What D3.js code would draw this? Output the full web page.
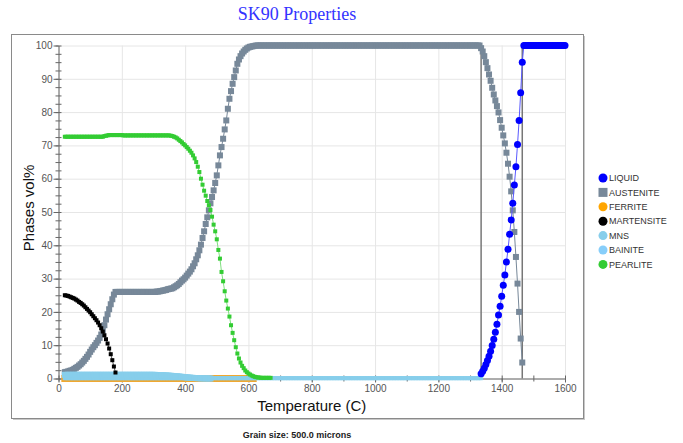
<!DOCTYPE html>
<html lang="en">
<head>
  <title>SK90 Properties</title>
  <meta charset="utf-8">
  <style>
  body { margin: 0; background: #fff; }
  svg { display: block; font-family: "Liberation Sans", Arial, sans-serif; }
  .grid line { stroke: #e6e6e6; }
  .grid path { display: none; }
  .axis path, .axis line { stroke: #666; }
  .axis text { fill: #555; font-size: 10px; font-family: "Liberation Sans", Arial, sans-serif; }
  .minor path { display: none; }
  </style>
  <script src="https://cdn.jsdelivr.net/npm/d3@7"></script>
</head>
<body>
  <svg width="683" height="443"></svg>
  <script>
  // every series is sampled on a 5 C temperature grid, starting at its own temperature
  var step = 5;

  var yTicks = [0, 10, 20, 30, 40, 50, 60, 70, 80, 90, 100];
  var xTicks = [0, 200, 400, 600, 800, 1000, 1200, 1400, 1600];

  // LIQUID, from 1335 C
  var liquidStart = 1335;
  var liquid = [1.4, 2.2, 3.1, 4.2, 5.4, 6.7, 8.2, 9.9, 11.8, 13.9, 16.3, 19.1, 21.7, 24.7, 28, 31.1, 35, 38.8, 43.3, 47.6,
    52.6, 58.1, 63.6, 70.3, 77.5, 85.8, 95,
    100, 100, 100, 100, 100, 100, 100, 100, 100, 100, 100, 100, 100, 100, 100, 100, 100, 100, 100, 100, 100, 100, 100, 100, 100, 100, 100];

  // AUSTENITE, from 20 C
  var austeniteStart = 20;
  var austenite = [1.9, 2.0, 2.1, 2.3, 2.4, 2.6, 2.9, 3.2, 3.5, 3.9, 4.3, 4.8, 5.3, 5.9, 6.5, 7.2, 8.0, 8.7, 9.4, 10.0,
    10.7, 11.4, 12.2, 13.2, 14.5, 16.0, 17.7, 19.3, 20.8, 22.3, 23.8, 25.2, 26.0,
    26, 26, 26, 26, 26, 26, 26, 26, 26, 26, 26, 26, 26, 26, 26, 26, 26, 26, 26, 26, 26, 26, 26,
    26.0, 26.0, 26.1, 26.1, 26.2, 26.3, 26.4, 26.5, 26.6, 26.8, 26.9, 27.0, 27.1, 27.4, 27.7, 28.0, 28.4, 28.9, 29.4, 29.8,
    30.3, 30.9, 31.5, 32.1, 32.8, 33.7, 34.6, 35.8, 37.0, 38.5, 40.2, 42.2, 44.2, 46.4, 48.4, 50.5, 52.6, 54.5, 56.5, 58.7,
    61.0, 64.0, 67.0, 69.5, 72.0, 74.8, 77.5, 81.0, 84.0, 86.3, 88.5, 90.5, 92.5, 94.5, 95.8, 96.8, 97.6, 98.2, 98.7, 99.1,
    99.4, 99.6, 99.7, 99.8, 99.9, 100,
    100, 100, 100, 100, 100, 100, 100, 100, 100, 100, 100, 100, 100, 100, 100, 100, 100, 100, 100, 100,
    100, 100, 100, 100, 100, 100, 100, 100, 100, 100, 100, 100, 100, 100, 100, 100, 100, 100, 100, 100,
    100, 100, 100, 100, 100, 100, 100, 100, 100, 100, 100, 100, 100, 100, 100, 100, 100, 100, 100, 100,
    100, 100, 100, 100, 100, 100, 100, 100, 100, 100, 100, 100, 100, 100, 100, 100, 100, 100, 100, 100,
    100, 100, 100, 100, 100, 100, 100, 100, 100, 100, 100, 100, 100, 100, 100, 100, 100, 100, 100, 100,
    100, 100, 100, 100, 100, 100, 100, 100, 100, 100, 100, 100, 100, 100, 100, 100, 100, 100, 100, 100,
    100, 100, 100, 100, 100, 100, 100, 100, 100, 100, 100, 100, 100, 100, 100, 100, 100, 100, 100, 100,
    100, 99.2, 98.2, 96.8, 95.0, 93.2, 91.3, 89.4, 87.3, 85.3, 83.5, 81.8, 79.9, 77.6, 75.3, 73.0, 70.6, 67.8, 64.5, 60.6,
    56.2, 50.5, 44.0, 36.5, 28.5, 20.0, 12.0, 4.8];

  // FERRITE, from 20 C
  var ferriteStart = 20;
  var ferrite = [0, 0, 0, 0, 0, 0, 0, 0, 0, 0, 0, 0, 0, 0, 0, 0, 0, 0, 0, 0,
    0, 0, 0, 0, 0, 0, 0, 0, 0, 0, 0, 0, 0, 0, 0, 0, 0, 0, 0, 0,
    0, 0, 0, 0, 0, 0, 0, 0, 0, 0, 0, 0, 0, 0, 0, 0, 0, 0, 0, 0,
    0, 0, 0, 0, 0, 0, 0, 0, 0, 0, 0, 0, 0, 0, 0, 0, 0, 0, 0, 0,
    0, 0, 0, 0, 0, 0, 0, 0, 0, 0, 0, 0, 0, 0, 0, 0, 0, 0, 0, 0,
    0, 0, 0, 0, 0, 0, 0, 0, 0, 0, 0, 0, 0, 0, 0, 0, 0, 0, 0, 0];

  // MARTENSITE, from 20 C
  var martensiteStart = 20;
  var martensite = [25.0, 24.9, 24.8, 24.6, 24.4, 24.2, 24.0, 23.7, 23.4, 23.0, 22.7, 22.3, 21.9, 21.4, 20.9, 20.4, 19.9, 19.3, 18.7, 18.1,
    17.5, 16.8, 16.0, 15.1, 14.1, 13.0, 11.8, 10.5, 9.0, 7.3, 5.5, 3.6, 1.8];

  // MNS, from 20 C
  var mnsStart = 20;
  var mns = [0.1, 0.1, 0.1, 0.1, 0.1, 0.1, 0.1, 0.1, 0.1, 0.1, 0.1, 0.1, 0.1, 0.1, 0.1, 0.1, 0.1, 0.1, 0.1, 0.1,
    0.1, 0.1, 0.1, 0.1, 0.1, 0.1, 0.1, 0.1, 0.1, 0.1, 0.1, 0.1, 0.1, 0.1, 0.1, 0.1, 0.1, 0.1, 0.1, 0.1,
    0.1, 0.1, 0.1, 0.1, 0.1, 0.1, 0.1, 0.1, 0.1, 0.1, 0.1, 0.1, 0.1, 0.1, 0.1, 0.1, 0.1, 0.1, 0.1, 0.1,
    0.1, 0.1, 0.1, 0.1, 0.1, 0.1, 0.1, 0.1, 0.1, 0.1, 0.1, 0.1, 0.1, 0.1, 0.1, 0.1, 0.1, 0.1, 0.1, 0.1,
    0.1, 0.1, 0.1, 0.1, 0.1, 0.1, 0.1, 0.1, 0.1, 0.1, 0.1, 0.1, 0.1, 0.1, 0.1, 0.1, 0.1, 0.1, 0.1, 0.1,
    0.1, 0.1, 0.1, 0.1, 0.1, 0.1, 0.1, 0.1, 0.1, 0.1, 0.1, 0.1, 0.1, 0.1, 0.1, 0.1, 0.1, 0.1, 0.1, 0.1,
    0.1, 0.1, 0.1, 0.1, 0.1, 0.1, 0.1, 0.1, 0.1, 0.1, 0.1, 0.1, 0.1, 0.1, 0.1, 0.1, 0.1, 0.1, 0.1, 0.1,
    0.1, 0.1, 0.1, 0.1, 0.1, 0.1, 0.1, 0.1, 0.1, 0.1, 0.1, 0.1, 0.1, 0.1, 0.1, 0.1, 0.1, 0.1, 0.1, 0.1,
    0.1, 0.1, 0.1, 0.1, 0.1, 0.1, 0.1, 0.1, 0.1, 0.1, 0.1, 0.1, 0.1, 0.1, 0.1, 0.1, 0.1, 0.1, 0.1, 0.1,
    0.1, 0.1, 0.1, 0.1, 0.1, 0.1, 0.1, 0.1, 0.1, 0.1, 0.1, 0.1, 0.1, 0.1, 0.1, 0.1, 0.1, 0.1, 0.1, 0.1,
    0.1, 0.1, 0.1, 0.1, 0.1, 0.1, 0.1, 0.1, 0.1, 0.1, 0.1, 0.1, 0.1, 0.1, 0.1, 0.1, 0.1, 0.1, 0.1, 0.1,
    0.1, 0.1, 0.1, 0.1, 0.1, 0.1, 0.1, 0.1, 0.1, 0.1, 0.1, 0.1, 0.1, 0.1, 0.1, 0.1, 0.1, 0.1, 0.1, 0.1,
    0.1, 0.1, 0.1, 0.1, 0.1, 0.1, 0.1, 0.1, 0.1, 0.1, 0.1, 0.1, 0.1, 0.1, 0.1, 0.1, 0.1, 0.1, 0.1, 0.1,
    0.1, 0.1, 0.1, 0.1];

  // BAINITE, from 20 C
  var bainiteStart = 20;
  var bainite = [1.1, 1.1, 1.1, 1.1, 1.1, 1.1, 1.1, 1.1, 1.1, 1.1, 1.1, 1.1, 1.1, 1.1, 1.1, 1.1, 1.1, 1.1, 1.1, 1.1,
    1.1, 1.1, 1.1, 1.1, 1.1, 1.1, 1.1, 1.1, 1.1, 1.1, 1.1, 1.1, 1.1, 1.1, 1.1, 1.1, 1.1, 1.1, 1.1, 1.1,
    1.1, 1.1, 1.1, 1.1, 1.1, 1.1, 1.1, 1.1, 1.1, 1.1, 1.1, 1.1, 1.1, 1.1, 1.1, 1.1, 1.1,
    1.08, 1.06, 1.04, 1.02, 1.0, 0.97, 0.94, 0.91, 0.88, 0.85, 0.81, 0.77, 0.73, 0.69, 0.65, 0.6, 0.55, 0.5, 0.45, 0.4,
    0.35, 0.3, 0.26, 0.22, 0.18, 0.15, 0.12, 0.1, 0.08, 0.06, 0.05, 0.04, 0.03, 0.02, 0.01, 0];

  // PEARLITE, from 20 C
  var pearliteStart = 20;
  var pearlite = [72.6, 72.6, 72.6, 72.6, 72.6, 72.6, 72.6, 72.6, 72.6, 72.6, 72.6, 72.6, 72.6, 72.6, 72.6, 72.6, 72.6, 72.6, 72.6, 72.6,
    72.6, 72.6, 72.6, 72.6, 72.6,
    72.8, 72.9, 73.0, 73.1, 73.1, 73.1, 73.1, 73.1, 73.1, 73.1, 73.1, 73.1, 73.0,
    73.0, 73.0, 73.0, 73.0, 73.0, 73.0, 73.0, 73.0, 73.0, 73.0, 73.0, 73.0, 73.0, 73.0, 73.0, 73.0, 73.0, 73.0, 73.0, 73.0,
    73.0, 73.0, 73.0, 73.0, 73.0, 73.0, 73.0, 73.0, 73.0,
    72.9, 72.8, 72.6, 72.4, 72.1, 71.7, 71.3, 70.9, 70.4, 70.0, 69.5, 69.0, 68.4, 67.8, 67.0, 66.1, 65.0, 63.6, 62.0, 60.0,
    58.2, 56.4, 54.9, 53.3, 52.0, 50.6, 48.6, 46.2, 44.2, 41.8, 38.6, 36.0, 32.0, 29.2, 26.2, 23.4, 21.0, 18.6, 16.0, 13.7,
    11.5, 9.4, 7.5, 6.0, 4.8, 3.8, 3.1, 2.4, 1.9, 1.5, 1.2, 0.9, 0.7, 0.5, 0.4, 0.3, 0.3, 0.2, 0.2, 0.2,
    0.2, 0.2, 0.2, 0.2];

  // solidus / liquidus markers
  var phaseLines = [1335, 1465];

  var svg = d3.select("svg"),
      margin = {top: 45.5, left: 58.5},
      width = 506.5,
      height = 333;

  // outer frame with a little shadow
  svg.append("rect")
      .attr("x", 13).attr("y", 36).attr("width", 572).attr("height", 384)
      .attr("fill", "#c8c8c8");
  svg.append("rect")
      .attr("x", 11.5).attr("y", 34.5).attr("width", 572).attr("height", 384)
      .attr("fill", "#fff").attr("stroke", "#8a8a8a");

  var g = svg.append("g").attr("transform", "translate(" + margin.left + "," + margin.top + ")");

  var x = d3.scaleLinear().domain([0, 1600]).range([0, width]);
  var y = d3.scaleLinear().domain([0, 100]).range([height, 0]);

  svg.append("text")
      .attr("x", 297).attr("y", 20)
      .attr("text-anchor", "middle")
      .attr("font-family", "'Liberation Serif', 'Times New Roman', serif")
      .style("font-size", "18px")
      .attr("fill", "#3333ff")
      .text("SK90 Properties");

  // grid
  g.append("g")
      .attr("class", "grid")
      .call(d3.axisLeft(y).tickValues(yTicks).tickSize(-width).tickFormat(""));
  g.append("g")
      .attr("class", "grid")
      .attr("transform", "translate(0," + height + ")")
      .call(d3.axisBottom(x).tickValues(xTicks).tickSize(-height).tickFormat(""));

  // axes
  var minorY = d3.range(0, 100.1, 2.5);
  g.append("g")
      .attr("class", "axis minor")
      .call(d3.axisLeft(y).tickValues(minorY).tickSize(3).tickFormat(""))
      .selectAll(".tick line").attr("x1", 3);
  g.append("g")
      .attr("class", "axis")
      .call(d3.axisLeft(y).tickValues(yTicks).tickSize(5).tickSizeOuter(0).tickPadding(1));

  g.append("g")
      .attr("class", "axis minor")
      .attr("transform", "translate(0," + height + ")")
      .call(d3.axisBottom(x).tickValues(d3.range(0, 1601, 100)).tickSize(3).tickFormat(""))
      .selectAll(".tick line").attr("y1", -3);
  g.append("g")
      .attr("class", "axis")
      .attr("transform", "translate(0," + height + ")")
      .call(d3.axisBottom(x).tickValues(xTicks).tickFormat(d3.format("d")).tickSize(4).tickSizeOuter(0).tickPadding(2));

  g.append("text")
      .attr("transform", "translate(-25," + (height / 2 - 4) + ") rotate(-90)")
      .attr("text-anchor", "middle")
      .style("font-size", "15px")
      .attr("fill", "#111")
      .text("Phases vol%");

  g.append("text")
      .attr("x", width / 2)
      .attr("y", height + 32)
      .attr("text-anchor", "middle")
      .style("font-size", "15px")
      .attr("fill", "#111")
      .text("Temperature (C)");

  svg.append("text")
      .attr("x", 297).attr("y", 438)
      .attr("text-anchor", "middle")
      .attr("font-weight", "bold")
      .style("font-size", "9px")
      .attr("fill", "#222")
      .text("Grain size: 500.0 microns");

  // solidus / liquidus lines
  g.selectAll(".phase-line")
      .data(phaseLines)
      .enter().append("line")
        .attr("class", "phase-line")
        .attr("x1", function(d) { return x(d); })
        .attr("x2", function(d) { return x(d); })
        .attr("y1", y(0))
        .attr("y2", y(100))
        .attr("stroke", "#777")
        .attr("stroke-width", 1.5);

  function points(start, values) {
    return values.map(function(v, i) { return {t: start + i * step, v: v}; });
  }

  var series = [
    {name: "AUSTENITE", data: points(austeniteStart, austenite), color: "#778899", line: "#778899", shape: "square", size: 6},
    {name: "FERRITE", data: points(ferriteStart, ferrite), color: "#f0a830", line: "#f0a830", shape: "square", size: 7},
    {name: "MNS", data: points(mnsStart, mns), color: "#87ceeb", line: "#87ceeb", shape: "square", size: 4},
    {name: "BAINITE", data: points(bainiteStart, bainite), color: "#87ceeb", line: "#87ceeb", shape: "square", size: 6},
    {name: "MARTENSITE", data: points(martensiteStart, martensite), color: "#000", line: "#555", shape: "square", size: 4},
    {name: "PEARLITE", data: points(pearliteStart, pearlite), color: "#33cc33", line: "#7fe07f", shape: "square", size: 4},
    {name: "LIQUID", data: points(liquidStart, liquid), color: "#0000ff", line: "#5a5aff", shape: "circle", size: 7}
  ];

  var line = d3.line()
      .x(function(d) { return x(d.t); })
      .y(function(d) { return y(d.v); });

  var serie = g.selectAll(".serie")
    .data(series)
    .enter().append("g")
      .attr("class", "serie");

  serie.append("path")
      .attr("d", function(d) { return line(d.data); })
      .attr("fill", "none")
      .attr("stroke", function(d) { return d.line; })
      .attr("stroke-width", 1);

  serie.each(function(s) {
    var sel = d3.select(this).selectAll(".pt").data(s.data).enter();
    if (s.shape == "circle") {
      sel.append("circle")
          .attr("cx", function(d) { return x(d.t); })
          .attr("cy", function(d) { return y(d.v); })
          .attr("r", s.size / 2)
          .attr("fill", s.color);
    } else {
      sel.append("rect")
          .attr("x", function(d) { return x(d.t) - s.size / 2; })
          .attr("y", function(d) { return y(d.v) - s.size / 2; })
          .attr("width", s.size)
          .attr("height", s.size)
          .attr("fill", s.color);
    }
  });

  // legend
  var legendItems = [
    {name: "LIQUID", color: "#0000ff", shape: "circle"},
    {name: "AUSTENITE", color: "#778899", shape: "square"},
    {name: "FERRITE", color: "#ffa500", shape: "circle"},
    {name: "MARTENSITE", color: "#000", shape: "circle"},
    {name: "MNS", color: "#87ceeb", shape: "circle"},
    {name: "BAINITE", color: "#87cefa", shape: "circle"},
    {name: "PEARLITE", color: "#33cc33", shape: "circle"}
  ];

  var legend = svg.selectAll(".legend")
    .data(legendItems)
    .enter().append("g")
      .attr("class", "legend")
      .attr("transform", function(d, i) { return "translate(603," + (178 + i * 14.4) + ")"; });

  legend.filter(function(d) { return d.shape == "circle"; })
    .append("circle")
      .attr("r", 4.5)
      .attr("fill", function(d) { return d.color; });

  legend.filter(function(d) { return d.shape == "square"; })
    .append("rect")
      .attr("x", -4.5).attr("y", -4.5)
      .attr("width", 9).attr("height", 9)
      .attr("fill", function(d) { return d.color; });

  legend.append("text")
      .attr("x", 6)
      .attr("dy", "0.35em")
      .attr("fill", "#333")
      .style("font", "9px 'Liberation Sans', Arial, sans-serif")
      .text(function(d) { return d.name; });
  </script>
</body>
</html>
